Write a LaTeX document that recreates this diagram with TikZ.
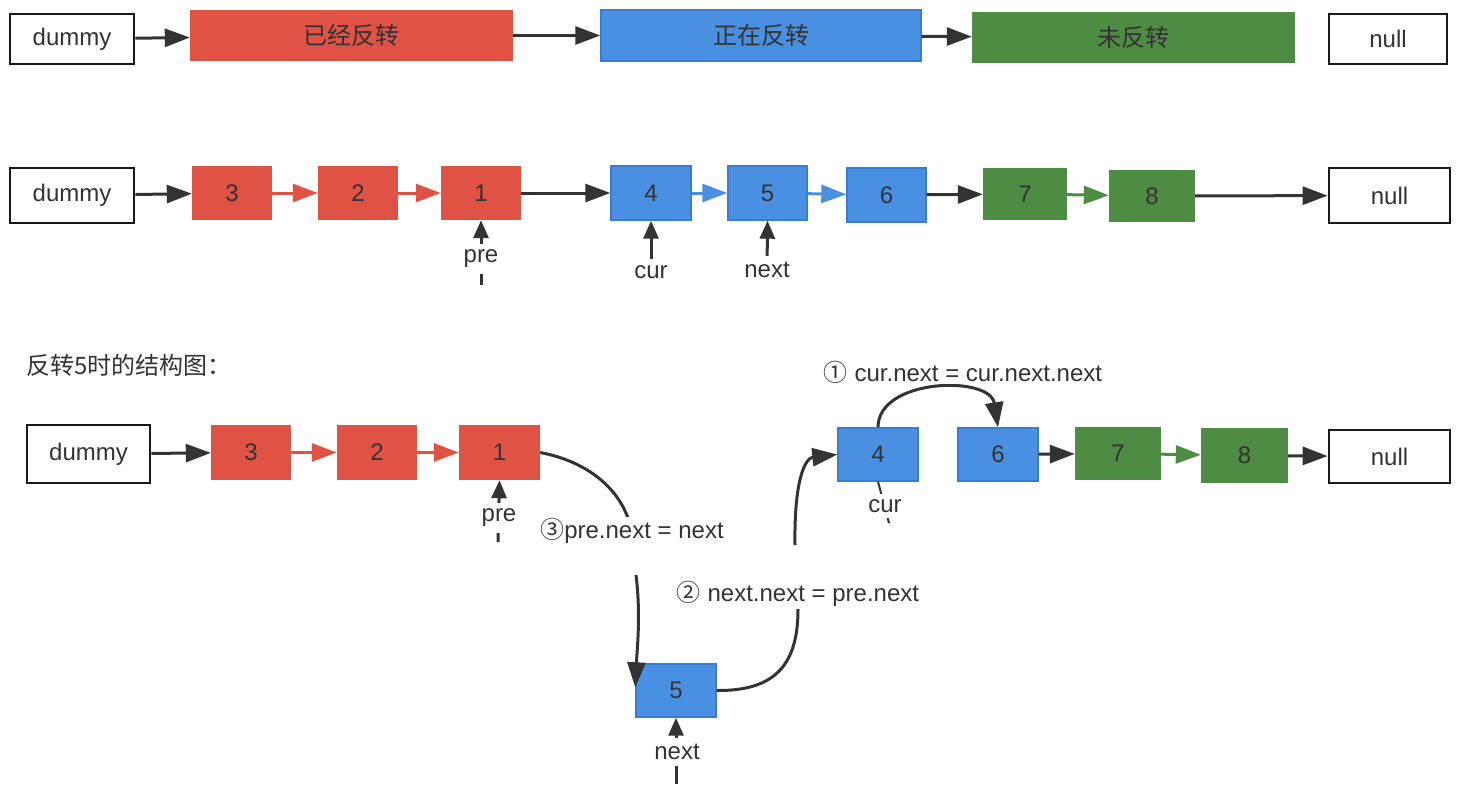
\documentclass[tikz,border=0pt]{standalone}
\usepackage{fontspec}
\setmainfont{Liberation Sans}
\newfontfamily\cjk{Noto Sans CJK SC}
\usetikzlibrary{arrows.meta}
\definecolor{nred}{HTML}{E05243}
\definecolor{nblue}{HTML}{4A90E2}
\definecolor{nblueb}{HTML}{3A7BD5}
\definecolor{ngreen}{HTML}{4E8B43}
\definecolor{txt}{HTML}{333333}
\newcommand{\fs}{\fontsize{24}{28}\selectfont}
\begin{document}
\begin{tikzpicture}[x=1pt,y=-1pt,
  base/.style={minimum width=80pt, minimum height=54pt, inner sep=0pt, text=txt, font=\fs},
  wbox/.style={base, draw=black!90, line width=2.8pt, fill=white},
  rbox/.style={base, fill=nred},
  bbox/.style={base, fill=nblue, draw=nblueb, line width=1.4pt},
  gbox/.style={base, fill=ngreen},
  tip/.style={-{Triangle[length=25pt,width=18pt]}},
  arr/.style={tip, line width=3pt, draw=txt},
  rarr/.style={tip, line width=3pt, draw=nred},
  barr/.style={tip, line width=3pt, draw=nblue},
  garr/.style={tip, line width=3pt, draw=ngreen},
  parr/.style={-{Triangle[length=18pt,width=15pt]}, line width=3pt, draw=txt},
  lbl/.style={fill=white, inner xsep=2pt, inner ysep=6pt, text=txt, font=\fs},
  elbl/.style={fill=white, inner sep=1pt, text=txt, font=\fs},
  curve/.style={line width=3pt, draw=txt}
]
\useasboundingbox (0,0) rectangle (1466,796);
% ---------- Row 1 ----------
\node[wbox, minimum width=124pt, minimum height=50pt] (ad) at (72,39) {dummy};
\node[rbox, minimum width=323pt, minimum height=51pt] (ar) at (351.5,35.5) {\cjk 已经反转};
\node[bbox, minimum width=320pt, minimum height=51pt] (ab) at (761,35.5) {\cjk 正在反转};
\node[gbox, minimum width=323pt, minimum height=51pt] (ag) at (1133.5,37.5) {\cjk 未反转};
\node[wbox, minimum width=118pt, minimum height=50pt] (an) at (1388,39) {null};
\draw[arr] (ad) -- (ar);
\draw[arr] (ar) -- (ab);
\draw[arr] (ab) -- (ag);
% ---------- Row 2 ----------
\node[wbox, minimum width=124pt, minimum height=55pt] (bd) at (72,195.5) {dummy};
\node[rbox] (b3) at (232,193) {3};
\node[rbox] (b2) at (358,193) {2};
\node[rbox] (b1) at (481,193) {1};
\node[bbox] (b4) at (651,193) {4};
\node[bbox, minimum width=79pt] (b5) at (767.5,193) {5};
\node[bbox, minimum width=79pt] (b6) at (886.5,195) {6};
\node[gbox, minimum width=84pt, minimum height=52pt] (b7) at (1025,194) {7};
\node[gbox, minimum width=86pt, minimum height=52pt] (b8) at (1152,196) {8};
\node[wbox, minimum width=121pt, minimum height=55pt] (bn) at (1389.5,195.5) {null};
\draw[arr] (bd) -- (b3);
\draw[rarr] (b3) -- (b2);
\draw[rarr] (b2) -- (b1);
\draw[arr] (b1) -- (b4);
\draw[barr] (b4) -- (b5);
\draw[barr] (b5) -- (b6);
\draw[arr] (b6) -- (b7);
\draw[garr] (b7) -- (b8);
\draw[arr] (b8) -- (bn);
% pointers row 2
\coordinate (bpre) at (481,285);
\coordinate (bcur) at (651,276);
\coordinate (bnext) at (767,274);
\draw[parr] (bpre) -- (b1.south);
\draw[parr] (bcur) -- (b4.south);
\draw[parr] (bnext) -- (b5.south);
\node[lbl] (lpre) at (481,259) {pre};
\node[lbl] (lcur) at (651,272) {cur};
\node[lbl] (lnext) at (767,270) {next};
% ---------- Section 3 ----------
\node[anchor=west, inner sep=0pt, text=txt, font=\fs\cjk] (head) at (26,365) {反转5时的结构图：};
\node[wbox, minimum width=123pt, minimum height=58pt] (cd) at (88.5,454) {dummy};
\node[rbox, minimum height=55pt] (c3) at (251,452.5) {3};
\node[rbox, minimum height=55pt] (c2) at (377,452.5) {2};
\node[rbox, minimum width=81pt, minimum height=55pt] (c1) at (499.5,452.5) {1};
\node[bbox, minimum height=53pt] (c4) at (878,454.5) {4};
\node[bbox, minimum height=53pt] (c6) at (998,454.5) {6};
\node[gbox, minimum width=86pt, minimum height=53pt] (c7) at (1118,453.5) {7};
\node[gbox, minimum width=87pt, minimum height=55pt] (c8) at (1244.5,455.5) {8};
\node[wbox, minimum width=121pt, minimum height=53pt] (cn) at (1389.5,456.5) {null};
\node[bbox, minimum height=53pt] (c5) at (676,690.5) {5};
\draw[arr] (cd) -- (c3);
\draw[rarr] (c3) -- (c2);
\draw[rarr] (c2) -- (c1);
\draw[arr] (c6) -- (c7);
\draw[garr] (c7) -- (c8);
\draw[arr] (c8) -- (cn);
% step 1
\draw[curve, tip] (c4.north) .. controls (878,378) and (990,375) .. (c6.north);
\node[elbl] (l1) at (963,372) {{\cjk ①} cur.next = cur.next.next};
% step 3
\coordinate (s3a) at (628,518);
\coordinate (s3b) at (636,575);
\draw[curve] (c1.east) .. controls (590,462) and (618,490) .. (s3a);
\draw[curve, tip] (s3b) .. controls (641,615) and (637,650) .. ([yshift=-24pt]c5.north west);
\node[elbl] (l3) at (632,531) {{\cjk ③}pre.next = next};
% step 2
\coordinate (s2a) at (798,609);
\coordinate (s2b) at (795,545);
\draw[curve] (c5.east) .. controls (775,691) and (798,665) .. (s2a);
\draw[curve, tip] (s2b) .. controls (794,480) and (805,458) .. (c4.west);
\node[elbl] (l2) at (798,594) {{\cjk ②} next.next = pre.next};
% pointers row 3
\coordinate (cpre) at (498,542);
\coordinate (ccur) at (889,523);
\coordinate (cnext) at (676,784);
\draw[parr] (cpre) -- (c1.south);
\draw[line width=2pt, draw=txt] (ccur) -- (c4.south);
\draw[parr] (cnext) -- (c5.south);
\node[lbl] (mpre) at (499,518) {pre};
\node[lbl, inner ysep=5pt] (mcur) at (885,506) {cur};
\node[lbl] (mnext) at (677,752) {next};
\end{tikzpicture}
\end{document}
